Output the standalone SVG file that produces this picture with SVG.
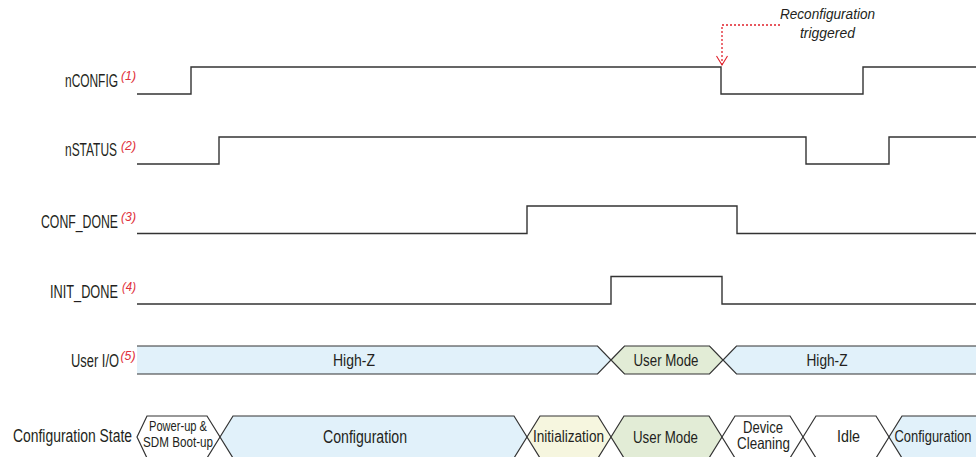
<svg xmlns="http://www.w3.org/2000/svg" width="976" height="457" viewBox="0 0 976 457">
<style>
text{font-family:"Liberation Sans",Arial,sans-serif;fill:#231f20}
.lbl{font-size:17.5px;text-anchor:end}
.sup{font-size:13px;font-style:italic;fill:#e0303a}
.c{text-anchor:middle}
.wave{fill:none;stroke:#333;stroke-width:1.4}
.edge{fill:none;stroke:#333;stroke-width:1.2}
.blue{fill:#e1f1fa}
.green{fill:#e2ecd6}
.yellow{fill:#f6f6df}
.white{fill:#fff}
.ann{font-size:15.5px;font-style:italic;text-anchor:middle}
</style>
<defs>
<marker id="ah" markerWidth="12" markerHeight="14" refX="10" refY="6" orient="auto" markerUnits="userSpaceOnUse" viewBox="0 0 12 12">
<path d="M1,0.5 L10,6 L1,11.5" fill="none" stroke="#e0202a" stroke-width="1.1"/>
</marker>
</defs>

<g id="nCONFIG">
<text class="lbl" x="118" y="87" textLength="53" lengthAdjust="spacingAndGlyphs">nCONFIG</text>
<text class="sup" x="121" y="80" textLength="15" lengthAdjust="spacingAndGlyphs">(1)</text>
<path class="wave" d="M137,94 H191 V67 H721 V94 H863 V67 H976"/>
</g>

<g id="nSTATUS">
<text class="lbl" x="117" y="156" textLength="52" lengthAdjust="spacingAndGlyphs">nSTATUS</text>
<text class="sup" x="121" y="150" textLength="15" lengthAdjust="spacingAndGlyphs">(2)</text>
<path class="wave" d="M137,164 H219 V137 H806 V164 H889 V137 H976"/>
</g>

<g id="CONF_DONE">
<text class="lbl" x="118" y="228" textLength="77" lengthAdjust="spacingAndGlyphs">CONF_DONE</text>
<text class="sup" x="121" y="221" textLength="15" lengthAdjust="spacingAndGlyphs">(3)</text>
<path class="wave" d="M137,233.5 H527 V206 H737 V233.5 H976"/>
</g>

<g id="INIT_DONE">
<text class="lbl" x="118" y="298" textLength="68" lengthAdjust="spacingAndGlyphs">INIT_DONE</text>
<text class="sup" x="122" y="291" textLength="14" lengthAdjust="spacingAndGlyphs">(4)</text>
<path class="wave" d="M137,304 H611 V276.5 H722 V304 H976"/>
</g>

<g id="UserIO">
<text class="lbl" x="119" y="367" textLength="48" lengthAdjust="spacingAndGlyphs">User I/O</text>
<text class="sup" x="120.5" y="360" textLength="15" lengthAdjust="spacingAndGlyphs">(5)</text>
<path class="blue" d="M137,346 H597.5 L611,360 L597.5,374 H137 Z"/>
<path class="edge" d="M137,346 H597.5 L611,360 L597.5,374 H137"/>
<text class="c" x="354" y="365.5" style="font-size:17px" textLength="42" lengthAdjust="spacingAndGlyphs">High-Z</text>
<path class="green edge" d="M611,360 L624.5,346 H709.5 L723,360 L709.5,374 H624.5 Z"/>
<text class="c" x="666" y="365.5" style="font-size:17px" textLength="65" lengthAdjust="spacingAndGlyphs">User Mode</text>
<path class="blue" d="M723,360 L736.5,346 H976 V374 H736.5 Z"/>
<path class="edge" d="M976,346 H736.5 L723,360 L736.5,374 H976"/>
<text class="c" x="827" y="365.5" style="font-size:17px" textLength="41" lengthAdjust="spacingAndGlyphs">High-Z</text>
</g>

<g id="ConfigState">
<text class="lbl" x="132" y="442" textLength="119" lengthAdjust="spacingAndGlyphs">Configuration State</text>
<g id="st-powerup">
<path class="white edge" d="M137,437 L147,416 H207 L220,437 L207,458 H147 Z"/>
<text class="c" x="178" y="431" style="font-size:14.5px" textLength="58" lengthAdjust="spacingAndGlyphs">Power-up &amp;</text>
<text class="c" x="178" y="447" style="font-size:14.5px" textLength="70" lengthAdjust="spacingAndGlyphs">SDM Boot-up</text>
</g>
<g id="st-config1">
<path class="blue edge" d="M220,437 L233,416 H514 L527,437 L514,458 H233 Z"/>
<text class="c" x="365" y="443" style="font-size:17.5px" textLength="84" lengthAdjust="spacingAndGlyphs">Configuration</text>
</g>
<g id="st-init">
<path class="yellow edge" d="M527,437 L540,416 H598 L611,437 L598,458 H540 Z"/>
<text class="c" x="568.5" y="442" style="font-size:16px" textLength="71" lengthAdjust="spacingAndGlyphs">Initialization</text>
</g>
<g id="st-user">
<path class="green edge" d="M611,437 L624,416 H709 L722,437 L709,458 H624 Z"/>
<text class="c" x="665.5" y="443" style="font-size:17px" textLength="65" lengthAdjust="spacingAndGlyphs">User Mode</text>
</g>
<g id="st-clean">
<path class="white edge" d="M722,437 L735,416 H790 L803,437 L790,458 H735 Z"/>
<text class="c" x="763" y="433" style="font-size:16.5px" textLength="40" lengthAdjust="spacingAndGlyphs">Device</text>
<text class="c" x="763.5" y="449" style="font-size:16.5px" textLength="53" lengthAdjust="spacingAndGlyphs">Cleaning</text>
</g>
<g id="st-idle">
<path class="white edge" d="M803,437 L816,416 H876 L889,437 L876,458 H816 Z"/>
<text class="c" x="848.5" y="442" style="font-size:17px" textLength="23" lengthAdjust="spacingAndGlyphs">Idle</text>
</g>
<g id="st-config2">
<path class="blue" d="M889,437 L902,416 H976 V458 H902 Z"/>
<path class="edge" d="M976,416 H902 L889,437 L902,458 H976"/>
<text class="c" x="933" y="442" style="font-size:16px" textLength="77" lengthAdjust="spacingAndGlyphs">Configuration</text>
</g>
</g>

<g id="annotation">
<text class="ann" x="827.5" y="19" textLength="95" lengthAdjust="spacingAndGlyphs">Reconfiguration</text>
<text class="ann" x="827.5" y="38" textLength="55" lengthAdjust="spacingAndGlyphs">triggered</text>
</g>

<g id="connectors">
<path d="M780,25 H722 V65" fill="none" stroke="#e0202a" stroke-width="1.3" stroke-dasharray="2,2" marker-end="url(#ah)"/>
</g>
</svg>
